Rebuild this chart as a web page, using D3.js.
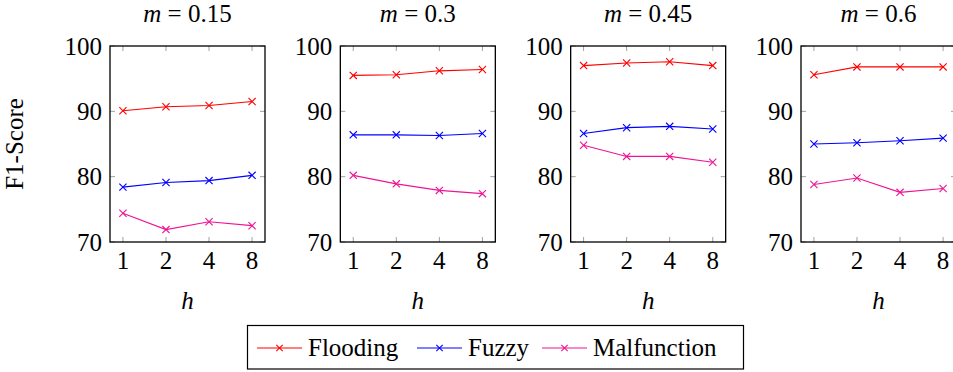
<!DOCTYPE html>
<html>
<head>
<meta charset="utf-8">
<script src="https://cdn.jsdelivr.net/npm/d3@7"></script>
<style>
  body { margin: 0; background: #fff; }
</style>
</head>
<body>
<div id="chart"></div>
<script>
// data
const hValues = ['1', '2', '4', '8'];
const mValues = ['0.15', '0.3', '0.45', '0.6'];
const yTicks = [70, 80, 90, 100];
const seriesNames = ['Flooding', 'Fuzzy', 'Malfunction'];
const seriesColors = ['#ff0000', '#0000ff', '#ee1493'];

const flooding = [
  [90.1, 90.7, 90.9, 91.5],
  [95.5, 95.6, 96.2, 96.4],
  [97.0, 97.4, 97.6, 97.0],
  [95.6, 96.8, 96.8, 96.8]
];
const fuzzy = [
  [78.4, 79.1, 79.4, 80.2],
  [86.4, 86.4, 86.3, 86.6],
  [86.6, 87.5, 87.7, 87.3],
  [85.0, 85.2, 85.5, 85.9]
];
const malfunction = [
  [74.4, 71.9, 73.1, 72.5],
  [80.2, 78.9, 77.9, 77.4],
  [84.8, 83.1, 83.1, 82.2],
  [78.8, 79.8, 77.6, 78.2]
];
const allSeries = [flooding, fuzzy, malfunction];

const W = 953, H = 372;
const panelW = 155, plotTop = 46, plotBottom = 242;
const fs = 25;
const FONT = 'Liberation Serif';

const svg = d3.select('#chart').append('svg')
  .attr('width', W)
  .attr('height', H);

const panelX = d3.scalePoint().domain(mValues).range([110, 801]);
const x = d3.scalePoint().domain(hValues).range([0, panelW]).padding(0.3);
const y = d3.scaleLinear().domain([70, 100]).range([plotBottom, plotTop]);

const line = d3.line()
  .x((d, i) => x(hValues[i]))
  .y(d => y(d));

// x marker path
const cross = (s) => `M${-s},${-s}L${s},${s}M${-s},${s}L${s},${-s}`;

mValues.forEach((m, pi) => {
  const g = svg.append('g').attr('transform', 'translate(' + panelX(m) + ',0)');

  // gray inner ticks
  const tk = g.append('g').attr('stroke', '#a0a0a0').attr('stroke-width', 1);
  hValues.forEach(h => {
    tk.append('line').attr('x1', x(h)).attr('x2', x(h)).attr('y1', plotBottom).attr('y2', plotBottom - 5);
    tk.append('line').attr('x1', x(h)).attr('x2', x(h)).attr('y1', plotTop).attr('y2', plotTop + 5);
  });
  yTicks.forEach(t => {
    tk.append('line').attr('x1', 0).attr('x2', 5).attr('y1', y(t)).attr('y2', y(t));
    tk.append('line').attr('x1', panelW).attr('x2', panelW - 5).attr('y1', y(t)).attr('y2', y(t));
  });

  // series
  allSeries.forEach((s, si) => {
    const vals = s[pi];
    g.append('path')
      .datum(vals)
      .attr('fill', 'none')
      .attr('stroke', seriesColors[si])
      .attr('stroke-width', 1.1)
      .attr('d', line);
    g.selectAll('.mk' + si)
      .data(vals)
      .enter().append('path')
      .attr('class', 'mk' + si)
      .attr('transform', (d, i) => 'translate(' + x(hValues[i]) + ',' + y(d) + ')')
      .attr('d', cross(3.6))
      .attr('stroke', seriesColors[si])
      .attr('stroke-width', 1.1);
  });

  // frame
  g.append('rect')
    .attr('x', 0).attr('y', plotTop)
    .attr('width', panelW).attr('height', plotBottom - plotTop)
    .attr('fill', 'none')
    .attr('stroke', '#000')
    .attr('stroke-width', 1.3);

  // y tick labels
  g.selectAll('.yl')
    .data(yTicks)
    .enter().append('text')
    .attr('class', 'yl')
    .attr('font-family', FONT)
    .attr('x', -8)
    .attr('y', d => y(d) + 8.5)
    .attr('text-anchor', 'end')
    .attr('font-size', fs)
    .text(d => d);

  // x tick labels
  g.selectAll('.xl')
    .data(hValues)
    .enter().append('text')
    .attr('class', 'xl')
    .attr('font-family', FONT)
    .attr('x', d => x(d))
    .attr('y', 269)
    .attr('text-anchor', 'middle')
    .attr('font-size', fs)
    .text(d => d);

  // x label
  g.append('text')
    .attr('font-family', FONT)
    .attr('x', panelW / 2)
    .attr('y', 309)
    .attr('text-anchor', 'middle')
    .attr('font-size', fs)
    .attr('font-style', 'italic')
    .text('h');

  // title
  const t = g.append('text')
    .attr('font-family', FONT)
    .attr('x', panelW / 2)
    .attr('y', 22)
    .attr('text-anchor', 'middle')
    .attr('font-size', fs);
  t.append('tspan').attr('font-style', 'italic').text('m');
  t.append('tspan').text(' = ' + m);
});

// y axis title
svg.append('text')
  .attr('font-family', FONT)
  .attr('transform', 'translate(23,144) rotate(-90)')
  .attr('text-anchor', 'middle')
  .attr('font-size', fs)
  .text('F1-Score');

// legend
const lg = svg.append('g');
lg.append('rect')
  .attr('x', 247.5).attr('y', 325.5)
  .attr('width', 496).attr('height', 43.5)
  .attr('fill', '#fff')
  .attr('stroke', '#000')
  .attr('stroke-width', 1.2);
const legendX = [257, 417, 542];
seriesNames.forEach((n, i) => {
  const lx = legendX[i];
  lg.append('line')
    .attr('x1', lx).attr('x2', lx + 45)
    .attr('y1', 348).attr('y2', 348)
    .attr('stroke', seriesColors[i])
    .attr('stroke-width', 1.1);
  lg.append('path')
    .attr('transform', 'translate(' + (lx + 22.5) + ',348)')
    .attr('d', cross(3.2))
    .attr('stroke', seriesColors[i])
    .attr('stroke-width', 1.1);
  lg.append('text')
    .attr('font-family', FONT)
    .attr('x', lx + 51)
    .attr('y', 356)
    .attr('font-size', fs)
    .text(n);
});
</script>
</body>
</html>
